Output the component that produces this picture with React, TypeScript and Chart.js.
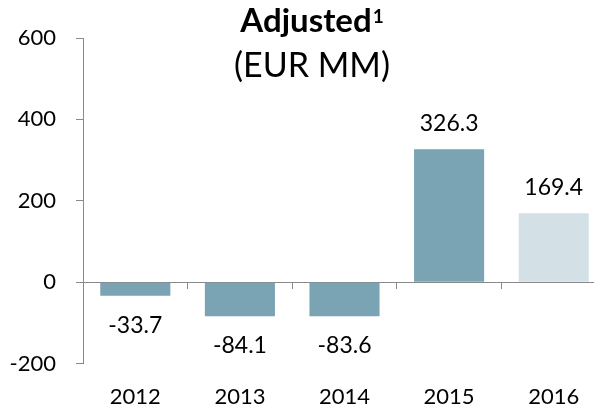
import React, { useEffect, useRef } from "react";
import { Chart, registerables } from "chart.js";

Chart.register(...registerables);

const categories = ["2012", "2013", "2014", "2015", "2016"];
const values = [-33.7, -84.1, -83.6, 326.3, 169.4];
const barColors = ["#7AA3B3", "#7AA3B3", "#7AA3B3", "#7AA3B3", "#D3E1E7"];
const yTicks = [-200, 0, 200, 400, 600];
const titleText = "Adjusted";
const titleSup = "1";
const subtitleText = "(EUR MM)";

const FONT = "Lato, 'Open Sans', sans-serif";
const AXIS_GRAY = "#898989";

const labelPlugin = {
  id: "valueLabels",
  afterDatasetsDraw(chart: any) {
    const ctx = chart.ctx;
    const meta = chart.getDatasetMeta(0);
    ctx.save();
    ctx.font = `23px ${FONT}`;
    ctx.fillStyle = "#000";
    ctx.textAlign = "center";
    ctx.textBaseline = "alphabetic";
    meta.data.forEach((el: any, i: number) => {
      const v = values[i];
      const txt = v.toFixed(1);
      if (v >= 0) ctx.fillText(txt, el.x, el.y - 18);
      else ctx.fillText(txt, el.x, el.y + 37);
    });
    ctx.restore();
  },
};

const titlePlugin = {
  id: "customTitle",
  afterDraw(chart: any) {
    const ctx = chart.ctx;
    const cx = chart.width / 2 + 9;
    ctx.save();
    ctx.fillStyle = "#000";
    ctx.textBaseline = "alphabetic";
    ctx.font = `bold 33px ${FONT}`;
    const w1 = ctx.measureText(titleText).width;
    ctx.font = `bold 19px ${FONT}`;
    const w2 = ctx.measureText(titleSup).width;
    const start = cx - (w1 + w2 + 1) / 2;
    ctx.textAlign = "left";
    ctx.font = `bold 33px ${FONT}`;
    ctx.fillText(titleText, start, 32);
    ctx.font = `bold 19px ${FONT}`;
    ctx.fillText(titleSup, start + w1 + 1, 23);
    ctx.textAlign = "center";
    ctx.font = `34px ${FONT}`;
    ctx.fillText(subtitleText, cx, 77);
    ctx.restore();
  },
};

export default function App() {
  const ref = useRef<HTMLCanvasElement | null>(null);
  useEffect(() => {
    if (!ref.current) return;
    const chart = new Chart(ref.current, {
      type: "bar",
      data: {
        labels: categories,
        datasets: [
          {
            data: values,
            backgroundColor: barColors,
            borderWidth: 0,
            categoryPercentage: 1,
            barPercentage: 0.67,
            xAxisID: "x",
          },
        ],
      },
      options: {
        responsive: false,
        animation: false,
        devicePixelRatio: 1,
        layout: { padding: { top: 38, right: 0, bottom: 0, left: 0 } },
        plugins: {
          legend: { display: false },
          tooltip: { enabled: false },
          title: { display: false },
        },
        scales: {
          y: {
            type: "linear",
            min: -200,
            max: 600,
            afterBuildTicks: (scale: any) => {
              scale.ticks = yTicks.map((v) => ({ value: v }));
            },
            afterFit: (scale: any) => {
              scale.width = 83;
            },
            ticks: {
              color: "#000",
              font: { family: FONT, size: 22 },
              padding: 20,
            },
            grid: {
              drawOnChartArea: false,
              drawTicks: true,
              tickLength: 7,
              color: AXIS_GRAY,
            },
            border: { display: true, color: AXIS_GRAY, width: 1 },
          },
          x: {
            type: "category",
            position: { y: 0 } as any,
            offset: true,
            afterFit: (scale: any) => {
              scale.height = 0;
            },
            ticks: { display: false },
            grid: {
              offset: true,
              drawOnChartArea: false,
              drawTicks: true,
              tickLength: 6,
              color: AXIS_GRAY,
            },
            border: { display: true, color: AXIS_GRAY, width: 1 },
          },
          x2: {
            type: "category",
            position: "bottom",
            offset: true,
            afterFit: (scale: any) => {
              scale.height = 47.5;
            },
            ticks: {
              color: "#000",
              font: { family: FONT, size: 22 },
              padding: 20,
              maxRotation: 0,
            },
            grid: { display: false, drawTicks: false },
            border: { display: false },
          },
        },
      },
      plugins: [labelPlugin, titlePlugin],
    });
    return () => chart.destroy();
  }, []);
  return (
    <div
      style={{
        position: "absolute",
        left: 0,
        top: 0,
        width: 594,
        height: 411,
        overflow: "hidden",
        background: "#fff",
      }}
    >
      <canvas ref={ref} width={606} height={411} style={{ display: "block" }} />
    </div>
  );
}
